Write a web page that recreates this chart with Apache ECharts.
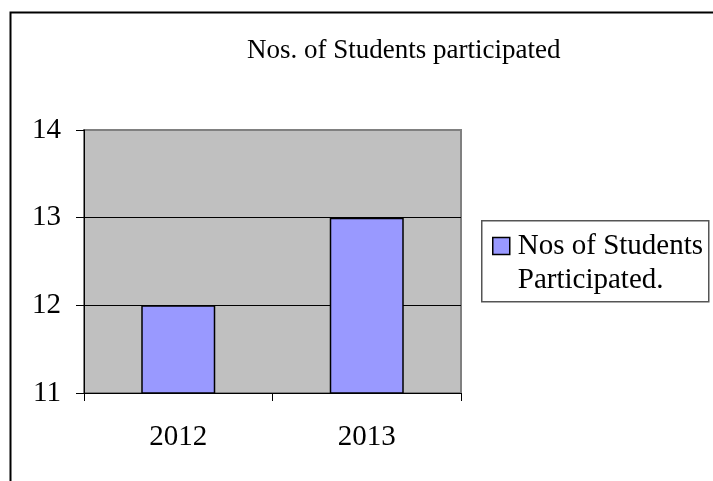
<!DOCTYPE html>
<html>
<head>
<meta charset="utf-8">
<script src="https://cdn.jsdelivr.net/npm/echarts@6/dist/echarts.min.js"></script>
<style>
html,body{margin:0;padding:0;background:#fff;}
#chart{width:713px;height:481px;}
</style>
</head>
<body>
<div id="chart"></div>
<script>
var titleText = 'Nos. of Students participated';
var categories = ['2012', '2013'];
var seriesName = 'Nos of Students\nParticipated.';
var values = [12, 13];
var yMin = 11, yMax = 14, yStep = 1;

var FONT = '"Liberation Serif", "Times New Roman", serif';
var chart = echarts.init(document.getElementById('chart'));
chart.setOption({
  backgroundColor: '#ffffff',
  animation: false,
  graphic: [
    { type: 'rect', left: 8, top: 10, silent: true,
      shape: { x: 0, y: 0, width: 900, height: 700 },
      style: { fill: 'none', stroke: '#000', lineWidth: 2 } },
    { type: 'rect', left: 481, top: 220, silent: true, z: 0,
      shape: { x: 0, y: 0, width: 227, height: 81 },
      style: { fill: '#fff', stroke: '#555555', lineWidth: 1.5 } }
  ],
  title: {
    text: titleText,
    left: 247, top: 37, padding: 0,
    textStyle: { fontFamily: FONT, fontSize: 27, fontWeight: 'normal', color: '#000' }
  },
  legend: {
    data: [seriesName],
    left: 492, top: 195, padding: 0,
    orient: 'vertical',
    itemWidth: 17, itemHeight: 17,
    icon: 'rect',
    selectedMode: false,
    z: 5,
    itemStyle: { borderColor: '#000', borderWidth: 1.5 },
    formatter: function (name) {
      return '\n' + name.split('\n').map(function (s) { return '{a|' + s + '}'; }).join('\n');
    },
    textStyle: {
      fontFamily: FONT, fontSize: 29, color: '#000', lineHeight: 34,
      rich: { a: { fontFamily: FONT, fontSize: 29, color: '#000', lineHeight: 34, padding: [0, 0, 0, 3] } }
    }
  },
  grid: {
    left: 84, top: 130, width: 377, height: 263,
    show: true, backgroundColor: '#c0c0c0', borderColor: '#808080', borderWidth: 2
  },
  xAxis: {
    type: 'category',
    data: categories,
    boundaryGap: true,
    axisLine: { show: true, lineStyle: { color: '#000', width: 1 } },
    axisTick: { show: true, length: 8, alignWithLabel: false, lineStyle: { color: '#000' } },
    axisLabel: { margin: 30, fontFamily: FONT, fontSize: 29, color: '#000' },
    splitLine: { show: false }
  },
  yAxis: {
    type: 'value',
    min: yMin, max: yMax, interval: yStep,
    axisLine: { show: true, lineStyle: { color: '#000', width: 1 } },
    axisTick: { show: true, length: 8, lineStyle: { color: '#000' } },
    axisLabel: { margin: 23, fontFamily: FONT, fontSize: 29, color: '#000' },
    splitLine: { show: true, lineStyle: { color: ['#000', '#000', '#000', '#808080'], width: 1 } }
  },
  series: [{
    name: seriesName,
    type: 'bar',
    data: values,
    barWidth: 74,
    itemStyle: { color: '#9999ff', borderColor: '#000', borderWidth: 1.5 }
  }]
});
</script>
</body>
</html>
